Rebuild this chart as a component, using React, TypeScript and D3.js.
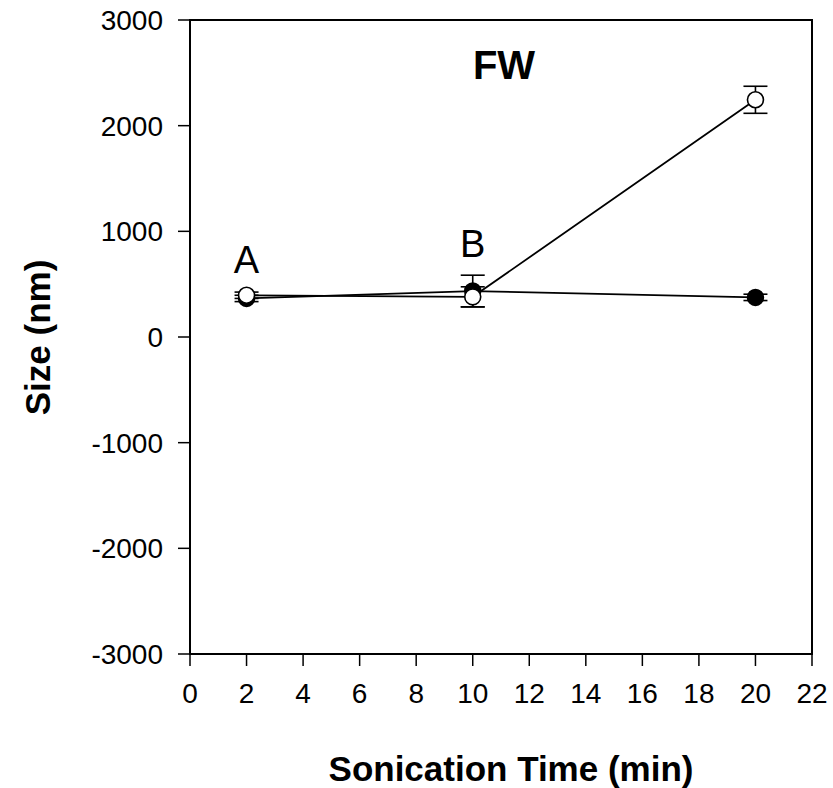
import React from "react";
import * as d3 from "d3";

const times = [2, 10, 20];
const filledMean = [365, 435, 375];
const filledErr = [30, 150, 30];
const openMean = [395, 380, 2245];
const openErr = [30, 95, 128];
const xTicks = [0, 2, 4, 6, 8, 10, 12, 14, 16, 18, 20, 22];
const yTicks = [-3000, -2000, -1000, 0, 1000, 2000, 3000];
const letterLabels = ["A", "B"];
const letterTimes = [2, 10];
const letterValues = [603, 757];

const W = 833;
const H = 788;
const left = 190;
const right = 812;
const top = 20;
const bottom = 654;

export default function App() {
  const x = d3.scaleLinear().domain([0, 22]).range([left, right]);
  const y = d3.scaleLinear().domain([-3000, 3000]).range([bottom, top]);
  const line = d3
    .line<number>()
    .x((_, i) => x(times[i]))
    .y((d) => y(d));
  const font = "'Liberation Sans', Arial, sans-serif";
  const capW = 12;

  const errBars = (means: number[], errs: number[], key: string) =>
    means.map((m, i) => {
      const cx = x(times[i]);
      const y1 = y(m + errs[i]);
      const y2 = y(m - errs[i]);
      return (
        <g key={key + i} stroke="#000" strokeWidth={1.6}>
          <line x1={cx} x2={cx} y1={y1} y2={y2} />
          <line x1={cx - capW} x2={cx + capW} y1={y1} y2={y1} />
          <line x1={cx - capW} x2={cx + capW} y1={y2} y2={y2} />
        </g>
      );
    });

  return (
    <svg width={W} height={H} style={{ position: "absolute", left: 0, top: 0, background: "#fff" }}>
      <rect x={0} y={0} width={W} height={H} fill="#fff" />
      <rect x={left} y={top} width={right - left} height={bottom - top} fill="none" stroke="#000" strokeWidth={2} />
      {yTicks.map((t) => (
        <g key={"y" + t}>
          <line x1={left - 12} x2={left} y1={y(t)} y2={y(t)} stroke="#000" strokeWidth={1.5} />
          <text x={left - 27} y={y(t)} dy="0.36em" textAnchor="end" fontFamily={font} fontSize={28} fill="#000">
            {t}
          </text>
        </g>
      ))}
      {xTicks.map((t) => (
        <g key={"x" + t}>
          <line x1={x(t)} x2={x(t)} y1={bottom} y2={bottom + 12} stroke="#000" strokeWidth={1.5} />
          <text x={x(t)} y={bottom + 49} textAnchor="middle" fontFamily={font} fontSize={28} fill="#000">
            {t}
          </text>
        </g>
      ))}
      <text x={511} y={781} textAnchor="middle" fontFamily={font} fontWeight="bold" fontSize={35} fill="#000">
        Sonication Time (min)
      </text>
      <text
        transform={`translate(50,337.5) rotate(-90)`}
        textAnchor="middle"
        fontFamily={font}
        fontWeight="bold"
        fontSize={35}
        fill="#000"
      >
        Size (nm)
      </text>
      <text x={504} y={79} textAnchor="middle" fontFamily={font} fontWeight="bold" fontSize={40} fill="#000">
        FW
      </text>
      {letterLabels.map((l, i) => (
        <text
          key={l}
          x={x(letterTimes[i])}
          y={y(letterValues[i])}
          textAnchor="middle"
          fontFamily={font}
          fontSize={38}
          fill="#000"
        >
          {l}
        </text>
      ))}
      {errBars(filledMean, filledErr, "fe")}
      <path d={line(filledMean) || ""} fill="none" stroke="#000" strokeWidth={1.8} />
      {filledMean.map((m, i) => (
        <circle key={"fc" + i} cx={x(times[i])} cy={y(m)} r={8} fill="#000" stroke="#000" strokeWidth={1.5} />
      ))}
      {errBars(openMean, openErr, "oe")}
      <path d={line(openMean) || ""} fill="none" stroke="#000" strokeWidth={1.8} />
      {openMean.map((m, i) => (
        <circle key={"oc" + i} cx={x(times[i])} cy={y(m)} r={8} fill="#fff" stroke="#000" strokeWidth={1.6} />
      ))}
    </svg>
  );
}
